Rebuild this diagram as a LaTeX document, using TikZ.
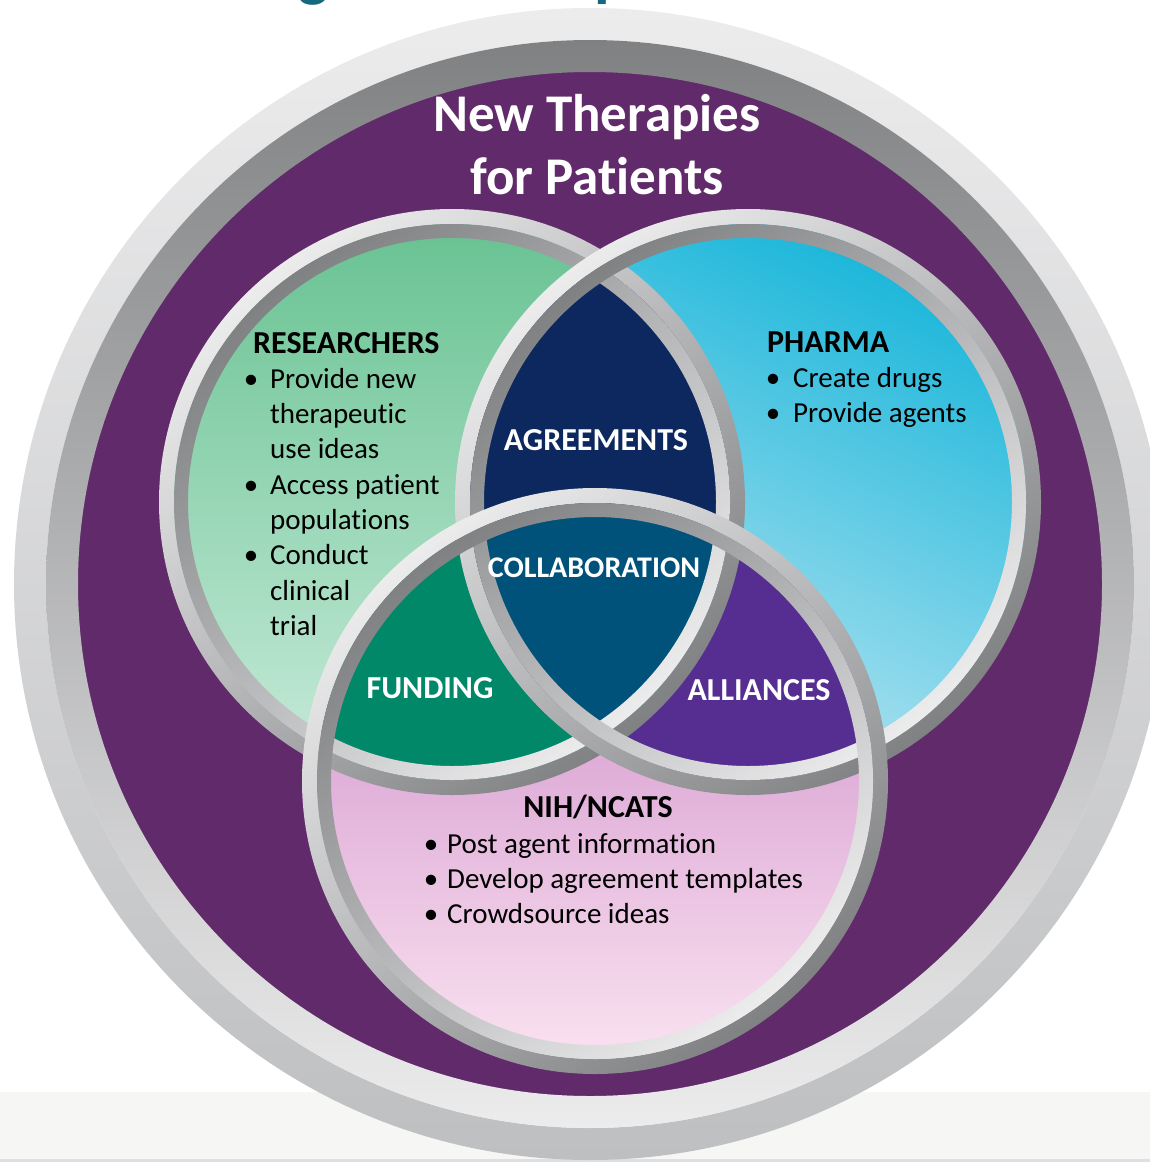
\documentclass[tikz,border=0pt]{standalone}
\usepackage{fontspec}
\setmainfont{Carlito}[Ligatures={NoCommon,NoContextual}]
\definecolor{bgpurple}{RGB}{97,42,106}
\definecolor{navyC}{RGB}{12,40,94}
\definecolor{collabC}{RGB}{0,82,122}
\definecolor{fundC}{RGB}{0,136,105}
\definecolor{allyC}{RGB}{86,46,146}
\definecolor{greenTop}{RGB}{104,194,146}
\definecolor{greenBot}{RGB}{200,235,218}
\definecolor{blueTop}{RGB}{25,182,218}
\definecolor{blueBot}{RGB}{195,232,243}
\definecolor{pinkTop}{RGB}{200,128,196}
\definecolor{pinkBot}{RGB}{250,226,240}
\definecolor{ringLight}{RGB}{236,236,237}
\definecolor{ringMid}{RGB}{190,191,193}
\definecolor{ringDark}{RGB}{128,129,131}
\definecolor{titleTeal}{RGB}{22,104,128}
\definecolor{bandGray}{RGB}{246,246,244}
\definecolor{bandLine}{RGB}{222,224,230}
\newcommand{\bul}[1]{\llap{\textbullet\hspace{#1}}}
\begin{document}
\begin{tikzpicture}[x=1pt,y=-1pt,
  bodytext/.style={font=\fontsize{29}{35}\selectfont, inner sep=0pt, anchor=base west, text=black},
  headtext/.style={font=\fontsize{32}{35}\selectfont\bfseries, inner sep=0pt, anchor=base west, text=black},
  lenslabel/.style={font=\fontsize{32}{35}\selectfont\bfseries, inner sep=0pt, anchor=base, text=white},
  titletext/.style={font=\fontsize{53}{60}\selectfont\bfseries, inner sep=0pt, anchor=base, text=white},
  fragtext/.style={font=\fontsize{64}{64}\selectfont\bfseries, inner sep=0pt, anchor=base west, text=titleTeal},
]
\useasboundingbox (0,0) rectangle (1150,1162);
\fill[white] (0,0) rectangle (1150,1162);
\fill[bandGray] (0,1092) rectangle (1150,1162);
\fill[bandLine] (0,1159) rectangle (1150,1162);

% title fragments cut off at the top edge, as in the reference
\node[fragtext] (fragg) at (298,-6) {g};
\node[fragtext] (fragp) at (594,-6) {p};

% outer ring and purple disc
\coordinate (O) at (590,584);
\fill[bgpurple] (O) circle[radius=514pt];
\shade[even odd rule, top color=ringLight, middle color=ringDark, bottom color=ringMid]
  (O) circle[radius=576pt] (O) circle[radius=544pt];
\shade[even odd rule, top color=ringDark, middle color=ringLight, bottom color=ringLight]
  (O) circle[radius=544pt] (O) circle[radius=512pt];

% Venn circle centres
\coordinate (G) at (452,502);
\coordinate (B) at (748,502);
\coordinate (P) at (595,781);

% base fills
\shade[top color=greenTop, bottom color=greenBot] (G) circle[radius=280pt];
\shade[top color=blueTop, bottom color=blueBot, shading angle=-25] (B) circle[radius=280pt];
\shade[top color=pinkTop, bottom color=pinkBot] (P) circle[radius=280pt];

% intersections
\begin{scope}
  \clip (G) circle[radius=280pt];
  \fill[navyC] (B) circle[radius=280pt];
  \fill[fundC] (P) circle[radius=280pt];
\end{scope}
\begin{scope}
  \clip (B) circle[radius=280pt];
  \fill[allyC] (P) circle[radius=280pt];
\end{scope}
\begin{scope}
  \clip (G) circle[radius=280pt];
  \clip (B) circle[radius=280pt];
  \fill[collabC] (P) circle[radius=280pt];
\end{scope}

% metallic rings
\foreach \c in {G,B,P}{
  \shade[even odd rule, top color=ringLight, bottom color=ringDark, shading angle=40]
    (\c) circle[radius=293pt] (\c) circle[radius=278pt];
  \shade[even odd rule, top color=ringDark, bottom color=ringLight, shading angle=40]
    (\c) circle[radius=278pt] (\c) circle[radius=264pt];
}

% title
\node[titletext] (t1) at (597,131) {New Therapies};
\node[titletext] (t2) at (597,194) {for Patients};

% researchers
\node[headtext] (rh) at (253,353) {RESEARCHERS};
\node[bodytext] (r1) at (270,388) {\bul{12pt}Provide new};
\node[bodytext] (r2) at (270,423) {therapeutic};
\node[bodytext] (r3) at (270,458) {use ideas};
\node[bodytext] (r4) at (270,494) {\bul{12pt}Access patient};
\node[bodytext] (r5) at (270,529) {populations};
\node[bodytext] (r6) at (270,564) {\bul{12pt}Conduct};
\node[bodytext] (r7) at (270,600) {clinical};
\node[bodytext] (r8) at (270,635) {trial};

% pharma
\node[headtext] (ph) at (767,352) {PHARMA};
\node[bodytext] (p1) at (793,387) {\bul{13pt}Create drugs};
\node[bodytext] (p2) at (793,422) {\bul{13pt}Provide agents};

% nih
\node[headtext, anchor=base] (nh) at (598,817) {NIH/NCATS};
\node[bodytext] (n1) at (447,853) {\bul{9pt}Post agent information};
\node[bodytext] (n2) at (447,888) {\bul{9pt}Develop agreement templates};
\node[bodytext] (n3) at (447,923) {\bul{9pt}Crowdsource ideas};

% lens labels
\node[lenslabel] (agr) at (596,450) {AGREEMENTS};
\node[lenslabel, font=\fontsize{30}{35}\selectfont\bfseries] (col) at (594,577) {COLLABORATION};
\node[lenslabel] (fun) at (430,698) {FUNDING};
\node[lenslabel] (all) at (759,700) {ALLIANCES};
\end{tikzpicture}
\end{document}
